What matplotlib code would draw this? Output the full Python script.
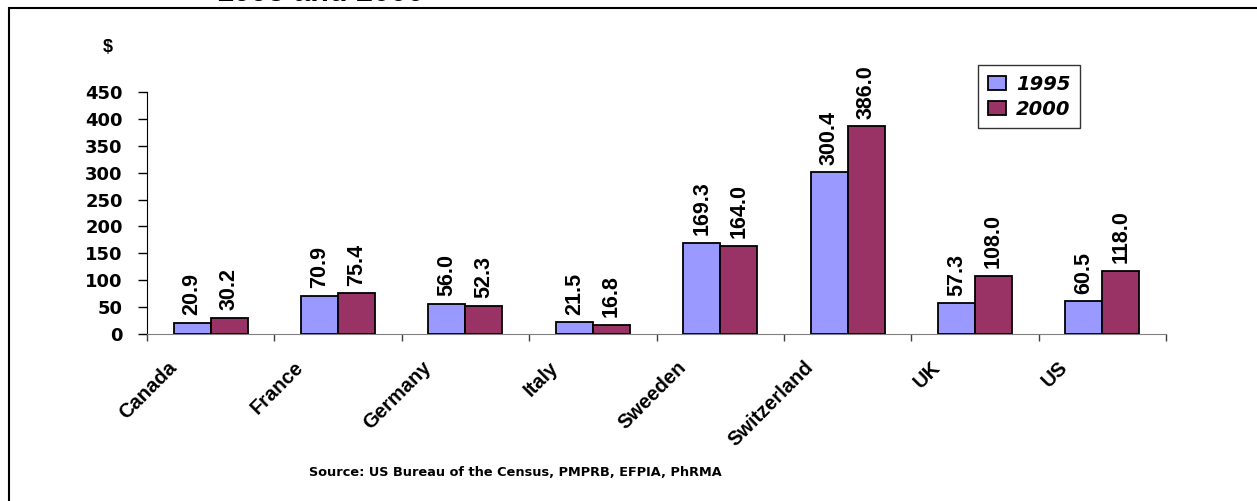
import numpy as np
import matplotlib
matplotlib.use("Agg")
import matplotlib.pyplot as plt
import matplotlib.transforms as mtransforms
from matplotlib.patches import Rectangle

plt.rcParams['font.family'] = ['Liberation Sans', 'DejaVu Sans']
plt.rcParams['font.weight'] = 'bold'

# values
countries = ['Canada', 'France', 'Germany', 'Italy', 'Sweeden', 'Switzerland', 'UK', 'US']
vals_1995 = [20.9, 70.9, 56.0, 21.5, 169.3, 300.4, 57.3, 60.5]
vals_2000 = [30.2, 75.4, 52.3, 16.8, 164.0, 386.0, 108.0, 118.0]
years = ['1995', '2000']
colors = ['#9999FF', '#993366']

W, H = 1257, 501
fig = plt.figure(figsize=(W / 100, H / 100), dpi=100)
ax = fig.add_axes([147 / W, 1 - 334 / H, (1166 - 147) / W, (334 - 92) / H])

# frame around the chart area (runs off the right and bottom edges)
fig.patches.append(Rectangle((9 / W, -0.1), 1.2, 1 - 8 / H + 0.1,
                             transform=fig.transFigure, fill=False,
                             edgecolor='black', linewidth=1.5))

x = np.arange(len(countries))
w = 0.29
for i, (vals, lab, c) in enumerate(zip([vals_1995, vals_2000], years, colors)):
    pos = x + (i - 0.5) * w
    ax.bar(pos, vals, w, color=c, edgecolor='black', linewidth=1.3, label=lab, zorder=3)
    for p, v in zip(pos, vals):
        ax.annotate(f'{v:.1f}', (p, v), xytext=(0, 5.5), textcoords='offset points',
                    rotation=90, ha='center', va='bottom', family='Liberation Sans',
                    fontsize=15.5, fontweight='bold')

ax.set_xlim(-0.5, len(countries) - 0.5)
ax.set_ylim(0, 450)
ax.set_yticks(np.arange(0, 451, 50))
ax.tick_params(axis='y', labelsize=13, length=6.5, width=1, direction='out', pad=11)
for t in ax.get_yticklabels():
    t.set_fontfamily('DejaVu Sans')
    t.set_fontweight('bold')

ax.set_xticks(x)
ax.set_xticklabels(countries, rotation=45, ha='right', va='top', rotation_mode='anchor',
                   fontsize=14.5, fontweight='bold', family='Liberation Sans')
ax.tick_params(axis='x', which='major', length=0, pad=17)
shift = mtransforms.ScaledTranslation(-44 / 100, 0, fig.dpi_scale_trans)
for t in ax.get_xticklabels():
    t.set_transform(t.get_transform() + shift)
ax.set_xticks(np.arange(-0.5, len(countries)), minor=True)
ax.tick_params(axis='x', which='minor', length=5, width=1, color='#404040')

for s in ['top', 'right']:
    ax.spines[s].set_visible(False)
ax.spines['left'].set_color('black')
ax.spines['bottom'].set_color('#808080')

leg = ax.legend(loc='upper left', bbox_to_anchor=(978 / W, 1 - 65 / H),
                bbox_transform=fig.transFigure, frameon=True, fancybox=False,
                prop={'family': 'DejaVu Sans', 'weight': 'bold', 'style': 'italic', 'size': 14},
                handlelength=0.95, handleheight=0.75, handletextpad=0.5,
                borderpad=0.5, labelspacing=0.3, borderaxespad=0)
leg.get_frame().set_edgecolor('black')
leg.get_frame().set_linewidth(1)

fig.text(108 / W, 1 - 48 / H, '$', ha='center', va='center', fontsize=13,
         fontweight='bold', family='Liberation Sans')
fig.text(321 / W, 1 - 1 / H, '1995 and 2000', ha='center', va='baseline',
         fontsize=22, fontweight='bold', family='Liberation Sans')
fig.text(515 / W, 1 - 473 / H, 'Source: US Bureau of the Census, PMPRB, EFPIA, PhRMA',
         ha='center', va='center', fontsize=9.3, fontweight='bold', family='DejaVu Sans')

fig.savefig('out.png', dpi=100)
